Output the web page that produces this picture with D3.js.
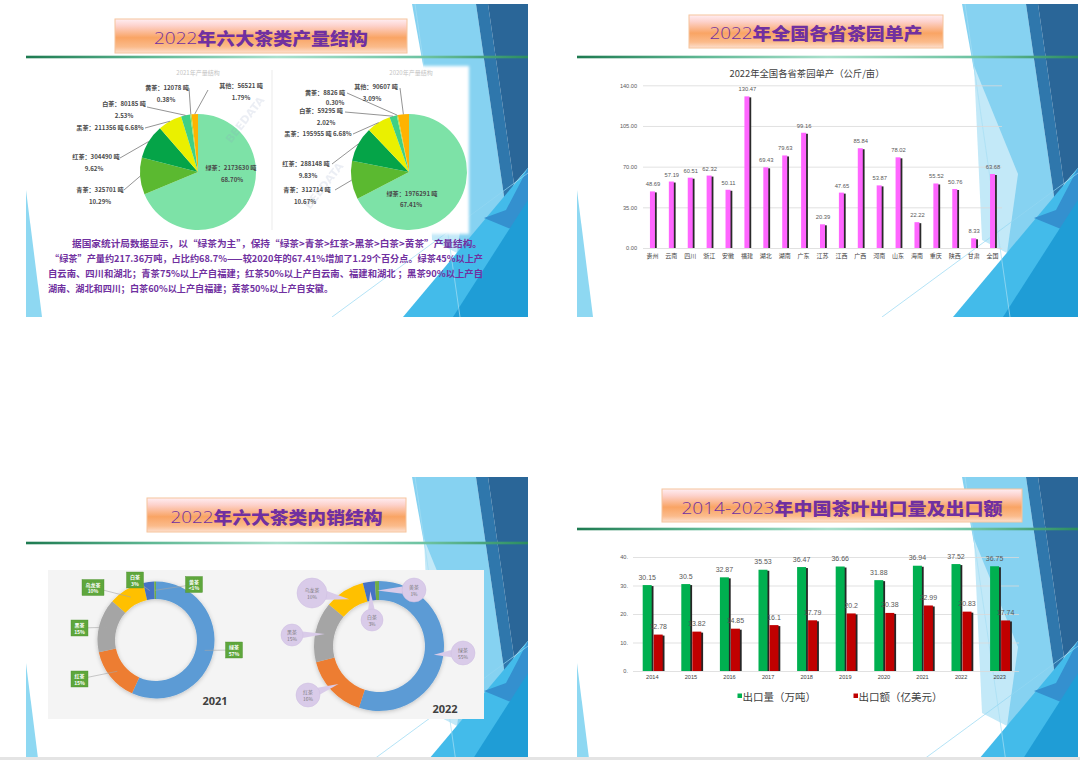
<!DOCTYPE html>
<html><head><meta charset="utf-8">
<script src="https://cdn.jsdelivr.net/npm/d3@7"></script>
<style>body{margin:0;background:#fff}svg{display:block}</style>
</head><body>
<svg id="c" width="1080" height="760"></svg>
<script>
// ---------------- DATA ----------------
const slideTitles = ["2022年六大茶类产量结构","2022年全国各省茶园单产","2022年六大茶类内销结构","2014-2023年中国茶叶出口量及出口额"];

const prodNames = ["绿茶","青茶","红茶","黑茶","白茶","黄茶","其他"];
const prod2021Tons = [2173630,325701,304490,211356,80185,12078,56521];
const prod2021Pct = ["68.70%","10.29%","9.62%","6.68%","2.53%","0.38%","1.79%"];
const prod2020Tons = [1976291,312714,288148,195955,59295,8826,90607];
const prod2020Pct = ["67.41%","10.67%","9.83%","6.68%","2.02%","0.30%","3.09%"];
const pieSubTitles = ["2021年产量结构","2020年产量结构"];
const paragraph = [
 "据国家统计局数据显示，以“绿茶为主”，保持“绿茶>青茶>红茶>黑茶>白茶>黄茶”产量结构。",
 "“绿茶”产量约217.36万吨，占比约68.7%——较2020年的67.41%增加了1.29个百分点。绿茶45%以上产",
 "自云南、四川和湖北；青茶75%以上产自福建；红茶50%以上产自云南、福建和湖北 ；黑茶90%以上产自",
 "湖南、湖北和四川；白茶60%以上产自福建；黄茶50%以上产自安徽。"
];

const yieldTitle = "2022年全国各省茶园单产（公斤/亩）";
const provinces = ["贵州","云南","四川","浙江","安徽","福建","湖北","湖南","广东","江苏","江西","广西","河南","山东","海南","重庆","陕西","甘肃","全国"];
const provinceYield = [48.69,57.19,60.51,62.32,50.11,130.47,69.43,79.63,99.16,20.39,47.65,85.84,53.87,78.02,22.22,55.52,50.76,8.33,63.68];
const yieldTicks = [0,35,70,105,140];

const salesNames = ["绿茶","红茶","黑茶","乌龙茶","白茶","黄茶"];
const sales2021 = [57,15,15,10,3,0.5];
const sales2021Labels = ["57%","15%","15%","10%","3%","<1%"];
const sales2022 = [55,16,15,10,3,1];
const sales2022Labels = ["55%","16%","15%","10%","3%","1%"];
const donutYears = ["2021","2022"];

const years = ["2014","2015","2016","2017","2018","2019","2020","2021","2022","2023"];
const exportVolume = [30.15,30.5,32.87,35.53,36.47,36.66,31.88,36.94,37.52,36.75];
const exportValue = [12.78,13.82,14.85,16.1,17.79,20.2,20.38,22.99,20.83,17.74];
const exportTicks = [0,10,20,30,40];
const exportSeries = ["出口量（万吨）","出口额（亿美元）"];

// ---------------- LAYOUT / STYLE ----------------
const CJK = "'Noto Sans CJK SC','Noto Sans',sans-serif";
const svg = d3.select("#c");
const defs = svg.append("defs");

function linGrad(id, stops, horiz){
  const g = defs.append("linearGradient").attr("id",id)
    .attr("x1",0).attr("y1",0).attr("x2",horiz?1:0).attr("y2",horiz?0:1);
  stops.forEach(([o,c])=>g.append("stop").attr("offset",o).attr("stop-color",c));
}
linGrad("titleGrad",[[0,"#ffeef3"],[0.2,"#fdd2cc"],[0.55,"#f9a464"],[0.82,"#fbbb8b"],[1,"#fde0d0"]]);
linGrad("lineGrad",[[0,"#1d7a50"],[0.25,"#5fb894"],[0.5,"#a9e0cc"],[0.8,"#6cc2a0"],[1,"#2b8c60"]],true);
defs.append("filter").attr("id","soft").attr("x","-10%").attr("y","-10%").attr("width","120%").attr("height","120%")
  .append("feGaussianBlur").attr("stdDeviation",1.6);
const sh = defs.append("filter").attr("id","shadow").attr("x","-20%").attr("y","-20%").attr("width","140%").attr("height","140%");
sh.append("feDropShadow").attr("dx",0).attr("dy",1).attr("stdDeviation",2).attr("flood-color","#000").attr("flood-opacity",0.22);

const slides = [
 {L:26,T:4,R:528,line:57,box:[115,19,292,34],tw:214,ty:37},
 {L:577,T:4,R:1078,line:57,box:[689,15,254,33],tw:213,ty:32},
 {L:26,T:477,R:528,line:543,box:[147,498,259,34],tw:212,ty:516},
 {L:577,T:477,R:1078,line:529,box:[662,489,360,33],tw:321,ty:506.5}
];
const H = 313;
const deco = [
 {c:"#86d2f1", p:[[-116,0],[-52,0],[-22,206],[-71,249]]},
 {c:"#c3e9f8", p:[[-104,62],[-60,170],[-71,249],[-96,236]]},
 {c:"#2f77ac", p:[[-52,0],[-40,0],[-14,180],[-22,206]]},
 {c:"#2a6698", p:[[-40,0],[0,0],[0,164],[-14,180]]},
 {c:"#43bbea", p:[[0,164],[0,313],[-125,313]]},
 {c:"#3490cf", p:[[0,164],[0,232],[-44,214],[-22,206]]},
 {c:"#1f9dd6", p:[[0,196],[0,313],[-75,313]]}
];

slides.forEach((s,i)=>{
  const cid = "clip"+i;
  defs.append("clipPath").attr("id",cid).append("rect")
    .attr("x",s.L).attr("y",s.T).attr("width",s.R-s.L).attr("height",Math.min(H,757-s.T));
  const g = svg.append("g").attr("clip-path",`url(#${cid})`);
  g.append("rect").attr("x",s.L).attr("y",s.T).attr("width",s.R-s.L).attr("height",H).attr("fill","#fff");
  deco.forEach(d=>g.append("polygon").attr("fill",d.c)
    .attr("points",d.p.map(([dx,dy])=>[s.R+dx,s.T+dy].join(",")).join(" ")));
  g.append("line").attr("x1",s.R-113).attr("y1",s.T).attr("x2",s.R-68).attr("y2",s.T+H).attr("stroke","#a6def4").attr("stroke-width",0.7);
  g.append("line").attr("x1",s.R-196).attr("y1",s.T+H).attr("x2",s.R).attr("y2",s.T+169).attr("stroke","#93d7f2").attr("stroke-width",0.7);
  g.append("polygon").attr("fill","#8ed8f2")
    .attr("points",[[s.L,s.T+186],[s.L,s.T+H],[s.L+16,s.T+H]].map(p=>p.join(",")).join(" "));
  g.append("rect").attr("x",s.L).attr("y",s.line-1.3).attr("width",s.R-s.L).attr("height",2.6).attr("fill","url(#lineGrad)");
  const [bx,by,bw,bh] = s.box;
  svg.append("rect").attr("x",bx).attr("y",by).attr("width",bw).attr("height",bh)
    .attr("fill","url(#titleGrad)").attr("stroke","#f6c49c").attr("stroke-width",1);
  const t = svg.append("text").attr("x",bx+bw/2).attr("y",s.ty).attr("text-anchor","middle").attr("dominant-baseline","central")
    .attr("font-family",CJK).attr("font-size",17).attr("fill","#7030a0")
    .attr("textLength",s.tw).attr("lengthAdjust","spacingAndGlyphs");
  slideTitles[i].split(/([0-9\-]+)/).filter(x=>x.length).forEach(part=>{
    const isNum = /^[0-9\-]+$/.test(part);
    t.append("tspan").attr("font-weight",isNum?300:900)
      .attr("font-family",isNum?"'Open Sans','DejaVu Sans',sans-serif":CJK).text(part);
  });
});
svg.append("rect").attr("x",0).attr("y",757).attr("width",1080).attr("height",3).attr("fill","#e4e4e4");

// ---------------- SLIDE 1 : production pies ----------------
svg.append("rect").attr("x",70).attr("y",66).attr("width",399).attr("height",168).attr("fill","#fff").attr("filter","url(#soft)");
svg.append("line").attr("x1",272).attr("x2",272).attr("y1",70).attr("y2",230).attr("stroke","#e6e6e6").attr("stroke-width",0.8);

const pieCfg = [
 {cx:198,cy:172,r:58,tons:prod2021Tons,pct:prod2021Pct,sub:[198,72],wm:[248,122],
  lab:[[231,167,232,179],[100,189,100,201,124,190],[96,156,94,168,120,158],[110,127,null,null,145,128],[124,103,124,115,147,107],[167,87,166,99,189,88],[241,85,241,97,208,90]]},
 {cx:409,cy:172,r:58,tons:prod2020Tons,pct:prod2020Pct,sub:[411,72],wm:[327,188],
  lab:[[412,193,411,204],[307,189,305,201,335,190],[306,163,308,175,332,164],[318,133,null,null,353,134],[321,110,326,122,345,112],[325,92,335,102.5,347,93],[376,86,372,98,400,88]]}
];
pieCfg.forEach((pc,pi)=>{
  const rg = (id,inner,outer)=>{
    const g = defs.append("radialGradient").attr("id",id).attr("gradientUnits","userSpaceOnUse")
      .attr("cx",pc.cx).attr("cy",pc.cy).attr("r",pc.r);
    g.append("stop").attr("offset",0.15).attr("stop-color",inner);
    g.append("stop").attr("offset",1).attr("stop-color",outer);
  };
  rg("red"+pi,"#8fe6b0","#05a448");
  rg("dark"+pi,"#f2f8b0","#eaf000");
  const fills = ["#7de2a7","#5bb930",`url(#red${pi})`,`url(#dark${pi})`,"#3fd085","#9ede55","#ffb300"];
  const arcs = d3.pie().sort(null)(pc.tons);
  const arc = d3.arc().innerRadius(0).outerRadius(pc.r);
  const g = svg.append("g");
  g.append("text").attr("x",pc.sub[0]).attr("y",pc.sub[1]).attr("text-anchor","middle").attr("dominant-baseline","central")
    .attr("font-family",CJK).attr("font-size",6).attr("fill","#c4c4c4").text(pieSubTitles[pi]);
  g.selectAll("path").data(arcs).join("path")
    .attr("transform",`translate(${pc.cx},${pc.cy})`).attr("d",arc).attr("fill",(d,i)=>fills[i]);
  g.append("text").attr("transform",`translate(${pc.wm[0]},${pc.wm[1]}) rotate(-52)`).attr("text-anchor","middle")
    .attr("font-family","DejaVu Sans").attr("font-weight",700).attr("font-size",11).attr("fill","#8a9ac0").attr("opacity",0.16).text("BEEDATA");
  arcs.forEach((a,i)=>{
    const L = pc.lab[i];
    const mid = (a.startAngle+a.endAngle)/2;
    if (L.length>4){
      g.append("line").attr("x1",L[4]).attr("y1",L[5])
        .attr("x2",pc.cx+pc.r*Math.sin(mid)).attr("y2",pc.cy-pc.r*Math.cos(mid))
        .attr("stroke","#666").attr("stroke-width",0.7);
    }
    const t1 = prodNames[i]+"："+pc.tons[i]+" 吨"+(L[2]==null?" "+pc.pct[i]:"");
    const txt = (x,y,s)=>g.append("text").attr("x",x).attr("y",y).attr("text-anchor","middle").attr("dominant-baseline","central")
      .attr("font-family",CJK).attr("font-weight",700).attr("font-size",6.1).attr("fill","#4a4a4a").text(s);
    txt(L[0],L[1],t1);
    if (L[2]!=null) txt(L[2],L[3],pc.pct[i]);
  });
});
const paraY = [243,258,273,288], paraX = [72,50,48,48], paraW = [410,433,435,285];
svg.append("g").selectAll("text").data(paragraph).join("text")
  .attr("x",(d,i)=>paraX[i]).attr("y",(d,i)=>paraY[i]).attr("dominant-baseline","central")
  .attr("font-family",CJK).attr("font-weight",700).attr("font-size",9.3).attr("fill","#7030a0")
  .attr("textLength",(d,i)=>paraW[i]).attr("lengthAdjust","spacingAndGlyphs").text(d=>d);

// ---------------- SLIDE 2 : province yield ----------------
const gY = svg.append("g").attr("font-family",CJK);
gY.append("text").attr("x",807).attr("y",73).attr("text-anchor","middle").attr("dominant-baseline","central")
  .attr("font-size",9.5).attr("fill","#404040").attr("textLength",155).attr("lengthAdjust","spacingAndGlyphs").text(yieldTitle);
const x1 = d3.scaleBand().domain(provinces).range([643,1002]);
const y1 = d3.scaleLinear().domain([0,140]).range([248,85.3]);
const ax1 = gY.append("g").attr("transform","translate(643,0)")
  .call(d3.axisLeft(y1).tickValues(yieldTicks).tickFormat(d3.format(".2f")).tickSize(-359).tickPadding(6));
ax1.select(".domain").remove();
ax1.selectAll("line").attr("stroke","#d9d9d9").attr("stroke-width",0.8);
ax1.selectAll("text").attr("font-size",5.6).attr("fill","#595959").attr("font-family","'Liberation Sans',sans-serif");
const bx1 = gY.append("g").attr("transform","translate(0,248)")
  .call(d3.axisBottom(x1).tickSize(0).tickPadding(6));
bx1.select(".domain").remove();
bx1.selectAll("text").attr("font-size",6).attr("fill","#404040").attr("font-family",CJK);
const bw1 = 5;
const cxp = d=>x1(d)+x1.bandwidth()/2;
gY.selectAll(".sh").data(provinces).join("rect").attr("class","sh")
  .attr("x",d=>cxp(d)-bw1/2+1.8).attr("y",(d,i)=>y1(provinceYield[i])+1).attr("width",bw1)
  .attr("height",(d,i)=>y1(0)-y1(provinceYield[i])-1).attr("fill","#2a2a2a");
gY.selectAll(".bar").data(provinces).join("rect").attr("class","bar")
  .attr("x",d=>cxp(d)-bw1/2).attr("y",(d,i)=>y1(provinceYield[i])).attr("width",bw1)
  .attr("height",(d,i)=>y1(0)-y1(provinceYield[i])).attr("fill","#ff66ff");
gY.selectAll(".vl").data(provinces).join("text").attr("class","vl")
  .attr("x",d=>cxp(d)+0.5).attr("y",(d,i)=>y1(provinceYield[i])-7).attr("text-anchor","middle").attr("dominant-baseline","central")
  .attr("font-family","'Liberation Sans',sans-serif").attr("font-size",5.8).attr("fill","#595959")
  .text((d,i)=>provinceYield[i].toFixed(2));

// ---------------- SLIDE 3 : donuts ----------------
svg.append("rect").attr("x",48).attr("y",570).attr("width",436).attr("height",149).attr("fill","#f4f4f4");
const dColors = ["#5b9bd5","#ed7d31","#a5a5a5","#ffc000","#4472c4","#70ad47"];
const donutCfg = [
 {cx:156,cy:640,ro:58.5,ri:41,vals:sales2021,labs:sales2021Labels,yr:[215,700],
  pos:[[234,650],[79.5,679],[79.5,628],[93,587.5],[135,580],[194,584.5]]},
 {cx:379,cy:646,ro:65,ri:46,vals:sales2022,labs:sales2022Labels,yr:[445,708],
  pos:[[463,653,12],[308,695,12],[292,635,11],[312,593,15],[372,620,11],[414,590,12]]}
];
donutCfg.forEach((dc,di)=>{
  const arcs = d3.pie().sort(null)(dc.vals);
  const arc = d3.arc().innerRadius(dc.ri).outerRadius(dc.ro);
  const g = svg.append("g");
  g.append("g").attr("filter","url(#shadow)").attr("transform",`translate(${dc.cx},${dc.cy})`)
    .selectAll("path").data(arcs).join("path").attr("d",arc).attr("fill",(d,i)=>dColors[i]);
  const rm = (dc.ro+dc.ri)/2;
  arcs.forEach((a,i)=>{
    const mid = (a.startAngle+a.endAngle)/2;
    const tx = dc.cx+rm*Math.sin(mid), ty = dc.cy-rm*Math.cos(mid);
    const p = dc.pos[i];
    const name = salesNames[i], pct = dc.labs[i];
    if (di===0){
      g.append("line").attr("x1",p[0]).attr("y1",p[1]).attr("x2",tx).attr("y2",ty).attr("stroke","#a6a6a6").attr("stroke-width",0.6);
      const w = name.length*5+7, h = 16;
      g.append("rect").attr("x",p[0]-w/2).attr("y",p[1]-h/2).attr("width",w).attr("height",h)
        .attr("fill","#5ea63c").attr("stroke","#4e9330").attr("stroke-width",0.4);
      [name,pct].forEach((s,k)=>g.append("text").attr("x",p[0]).attr("y",p[1]-3.4+k*6.6).attr("text-anchor","middle")
        .attr("dominant-baseline","central").attr("font-family",CJK).attr("font-weight",700).attr("font-size",5).attr("fill","#fff").text(s));
    } else {
      const r = p[2];
      const th = Math.atan2(ty-p[1],tx-p[0]);
      const b1 = [p[0]+r*Math.cos(th-0.3),p[1]+r*Math.sin(th-0.3)];
      const b2 = [p[0]+r*Math.cos(th+0.3),p[1]+r*Math.sin(th+0.3)];
      g.append("polygon").attr("points",[b1,[tx,ty],b2].map(q=>q.join(",")).join(" ")).attr("fill","#d9cbe9");
      g.append("circle").attr("cx",p[0]).attr("cy",p[1]).attr("r",r).attr("fill","#d9cbe9").attr("stroke","#cdbde0").attr("stroke-width",0.5);
      [name,pct].forEach((s,k)=>g.append("text").attr("x",p[0]).attr("y",p[1]-3.2+k*6.4).attr("text-anchor","middle")
        .attr("dominant-baseline","central").attr("font-family",CJK).attr("font-size",4.9).attr("fill","#7a7a7a").text(s));
    }
  });
  g.append("text").attr("x",dc.yr[0]).attr("y",dc.yr[1]).attr("text-anchor","middle").attr("dominant-baseline","central")
    .attr("font-family","'Open Sans','DejaVu Sans',sans-serif").attr("font-weight",700).attr("font-size",11).attr("fill","#404040").text(donutYears[di]);
});

// ---------------- SLIDE 4 : exports ----------------
const gE = svg.append("g");
const x2 = d3.scaleBand().domain(years).range([633,1019]);
const y2 = d3.scaleLinear().domain([0,40]).range([671,557]);
const ax2 = gE.append("g").attr("transform","translate(633,0)")
  .call(d3.axisLeft(y2).tickValues(exportTicks).tickFormat(d=>d+".").tickSize(-386).tickPadding(5));
ax2.select(".domain").remove();
ax2.selectAll("line").attr("stroke","#d9d9d9").attr("stroke-width",0.8);
ax2.selectAll("text").attr("font-size",5.6).attr("fill","#595959").attr("font-family","'Liberation Sans',sans-serif");
const bx2 = gE.append("g").attr("transform","translate(0,671)").call(d3.axisBottom(x2).tickSize(0).tickPadding(4));
bx2.select(".domain").remove();
bx2.selectAll("text").attr("font-size",5.6).attr("fill","#404040").attr("font-family","'Liberation Sans',sans-serif");
const cx2 = d=>x2(d)+x2.bandwidth()/2;
const bw2 = 9;
const series = [
 {vals:exportVolume,off:-9.6,col:"#00b050"},
 {vals:exportValue,off:1.4,col:"#c00000"}
];
series.forEach((s,si)=>{
  gE.selectAll(".sh"+si).data(years).join("rect")
    .attr("x",d=>cx2(d)+s.off+1.8).attr("y",(d,i)=>y2(s.vals[i])+1).attr("width",bw2)
    .attr("height",(d,i)=>y2(0)-y2(s.vals[i])-1).attr("fill","#262626");
  gE.selectAll(".b"+si).data(years).join("rect")
    .attr("x",d=>cx2(d)+s.off).attr("y",(d,i)=>y2(s.vals[i])).attr("width",bw2)
    .attr("height",(d,i)=>y2(0)-y2(s.vals[i])).attr("fill",s.col);
});
series.forEach((s,si)=>{
  gE.selectAll(".l"+si).data(years).join("text")
    .attr("x",d=>cx2(d)+s.off+bw2/2).attr("y",(d,i)=>y2(s.vals[i])-8).attr("text-anchor","middle").attr("dominant-baseline","central")
    .attr("font-family","'Liberation Sans',sans-serif").attr("font-size",7).attr("fill","#595959")
    .text((d,i)=>s.vals[i]);
});
const legX = [737.5,853.5];
series.forEach((s,si)=>{
  gE.append("rect").attr("x",legX[si]).attr("y",693.5).attr("width",4.5).attr("height",4.5).attr("fill",s.col);
  gE.append("text").attr("x",legX[si]+5).attr("y",696).attr("dominant-baseline","central")
    .attr("font-family",CJK).attr("font-size",10.5).attr("fill","#404040").text(exportSeries[si]);
});
</script>
</body></html>
